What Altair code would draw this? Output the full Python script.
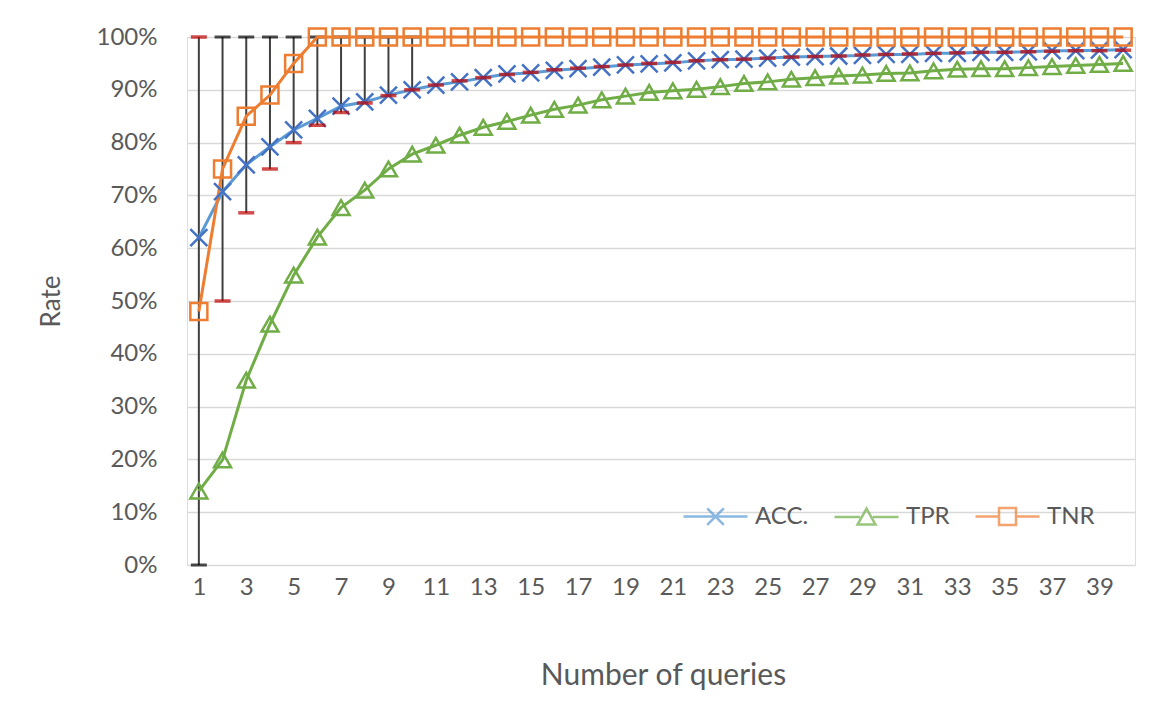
import altair as alt
import pandas as pd

# ---------------- data ----------------
queries = list(range(1, 41))
series_names = ["ACC.", "TPR", "TNR"]

acc = [62.0, 70.7, 75.8, 79.2, 82.4, 84.6, 86.9, 87.7, 89.0, 90.0,
       90.9, 91.5, 92.3, 93.0, 93.2, 93.7, 94.0, 94.3, 94.7, 94.9,
       95.1, 95.5, 95.7, 95.8, 96.0, 96.2, 96.3, 96.4, 96.5, 96.7,
       96.7, 96.9, 96.9, 97.1, 97.1, 97.2, 97.4, 97.4, 97.5, 97.6]
tpr = [14.0, 19.9, 35.0, 45.6, 54.9, 62.1, 67.7, 71.0, 75.0, 77.8,
       79.5, 81.4, 82.9, 84.0, 85.2, 86.3, 87.1, 88.1, 88.8, 89.5,
       89.8, 90.1, 90.6, 91.2, 91.5, 92.0, 92.3, 92.6, 92.8, 93.1,
       93.2, 93.6, 93.9, 94.0, 94.0, 94.2, 94.4, 94.6, 94.8, 95.0]
tnr = [48.0, 75.0, 85.0, 89.0, 95.0] + [100.0] * 35

# red error-bar caps (one per query count)
red_caps = [100.0, 50.0, 66.7, 75.0, 80.0, 83.3, 85.7, 87.5, 88.9, 90.0,
            90.9, 91.7, 92.3, 92.9, 93.3, 93.8, 94.1, 94.4, 94.7, 95.0,
            95.2, 95.5, 95.7, 95.8, 96.0, 96.2, 96.3, 96.4, 96.6, 96.7,
            96.8, 96.9, 97.0, 97.1, 97.1, 97.2, 97.3, 97.4, 97.4, 97.5]
# vertical error bars (first ten query counts) and their black caps
bar_queries = list(range(1, 11))
black_caps = [0.0] + [100.0] * 9

x_ticks = list(range(1, 40, 2))
y_ticks = [v / 10 for v in range(0, 11)]

# ---------------- tables ----------------
long_rows = []
for name, vals in zip(series_names, [acc, tpr, tnr]):
    for q, v in zip(queries, vals):
        long_rows.append({"n": q, "series": name, "value": v / 100})
df = pd.DataFrame(long_rows)

df_red = pd.DataFrame({"n": queries, "red": [v / 100 for v in red_caps]})
df_bar = pd.DataFrame({
    "n": bar_queries,
    "black": [v / 100 for v in black_caps],
    "red": [v / 100 for v in red_caps[:10]],
})

# ---------------- styles ----------------
FONT = "Lato"
GREY = "#595959"
line_colors = ["#5B9BD5", "#70AD47", "#ED7D31"]
marker_colors = ["#4472C4", "#70AD47", "#ED7D31"]
X_PATH = "M-1,-1L1,1M-1,1L1,-1"
marker_shapes = [X_PATH, "triangle-up", "square"]
legend_shapes = [
    "M-1,0L1,0M-0.26,-0.26L0.26,0.26M-0.26,0.26L0.26,-0.26",
    "M-1,0L-0.2,0M0.2,0L1,0M-0.28,0.24L0.28,0.24L0,-0.26Z",
    "M-1,0L-0.265,0M0.265,0L1,0M-0.265,-0.265L0.265,-0.265L0.265,0.265L-0.265,0.265Z",
]

x_enc = alt.X("n:Q", scale=alt.Scale(domain=[0.5, 40.5], nice=False, zero=False),
              axis=alt.Axis(values=x_ticks, format="d", grid=False, domain=False,
                            ticks=False, tickSize=0, labelPadding=10,
                            labelFont=FONT, labelFontSize=24, labelColor=GREY,
                            title="Number of queries", titleFont=FONT,
                            titleFontSize=30, titleColor=GREY, titleFontWeight="normal",
                            titleX=476, titleY=110, titleBaseline="middle"))
y_scale = alt.Scale(domain=[0, 1], nice=False)
y_axis = alt.Axis(values=y_ticks, format=".0%", domain=False, ticks=False,
                  tickSize=0, labelPadding=30, gridColor="#D9D9D9", gridWidth=1.5,
                  labelFont=FONT, labelFontSize=24, labelColor=GREY,
                  title="Rate", titleFont=FONT, titleFontSize=26, titleColor=GREY,
                  titleFontWeight="normal", titleX=-136, titleY=264,
                  titleAngle=270, titleBaseline="middle")

rules = alt.Chart(df_bar).mark_rule(color="#404040", strokeWidth=2).encode(
    x=x_enc,
    y=alt.Y("red:Q", scale=y_scale, axis=y_axis),
    y2="black:Q",
)

black_tick = alt.Chart(df_bar).mark_tick(
    orient="horizontal", color="#000000", thickness=3, size=16
).encode(x="n:Q", y="black:Q")

lines = alt.Chart(df).mark_line(strokeWidth=3, interpolate="linear").encode(
    x="n:Q",
    y="value:Q",
    color=alt.Color("series:N", scale=alt.Scale(domain=series_names, range=line_colors),
                    legend=None),
    detail="series:N",
)

points = alt.Chart(df).mark_point(filled=False, strokeWidth=2.5, size=289, opacity=1).encode(
    x="n:Q",
    y="value:Q",
    color=alt.Color("series:N", scale=alt.Scale(domain=series_names, range=marker_colors),
                    legend=None),
    shape=alt.Shape("series:N", scale=alt.Scale(domain=series_names, range=marker_shapes),
                    legend=None),
)

red_tick = alt.Chart(df_red).mark_tick(
    orient="horizontal", color="#C00000", thickness=3.5, size=16
).encode(x="n:Q", y="red:Q")

legend_cfg = dict(orient="none", legendX=495, legendY=446,
                  direction="horizontal", title=None,
                  symbolSize=4096, symbolStrokeWidth=2.5,
                  labelFont=FONT, labelFontSize=24,
                  labelColor=GREY, labelOffset=6, columnPadding=20)

legend_layer = alt.Chart(df).mark_point(filled=False, strokeWidth=2.5).encode(
    x="n:Q",
    y="value:Q",
    color=alt.Color("series:N", scale=alt.Scale(domain=series_names, range=line_colors),
                    legend=alt.Legend(**legend_cfg)),
    shape=alt.Shape("series:N", scale=alt.Scale(domain=series_names, range=legend_shapes),
                    legend=alt.Legend(**legend_cfg)),
).transform_filter("datum.value < -1")

chart = alt.layer(rules, black_tick, lines, points, red_tick, legend_layer).resolve_scale(
    color="independent", shape="independent"
).properties(
    width=948, height=528,
    autosize=alt.AutoSizeParams(type="none"),
    padding={"left": 179, "top": 29, "right": 20, "bottom": 135},
).configure_view(stroke=None).configure(background="white")

chart.save("out.html", embed_options={"renderer": "svg", "actions": False})
